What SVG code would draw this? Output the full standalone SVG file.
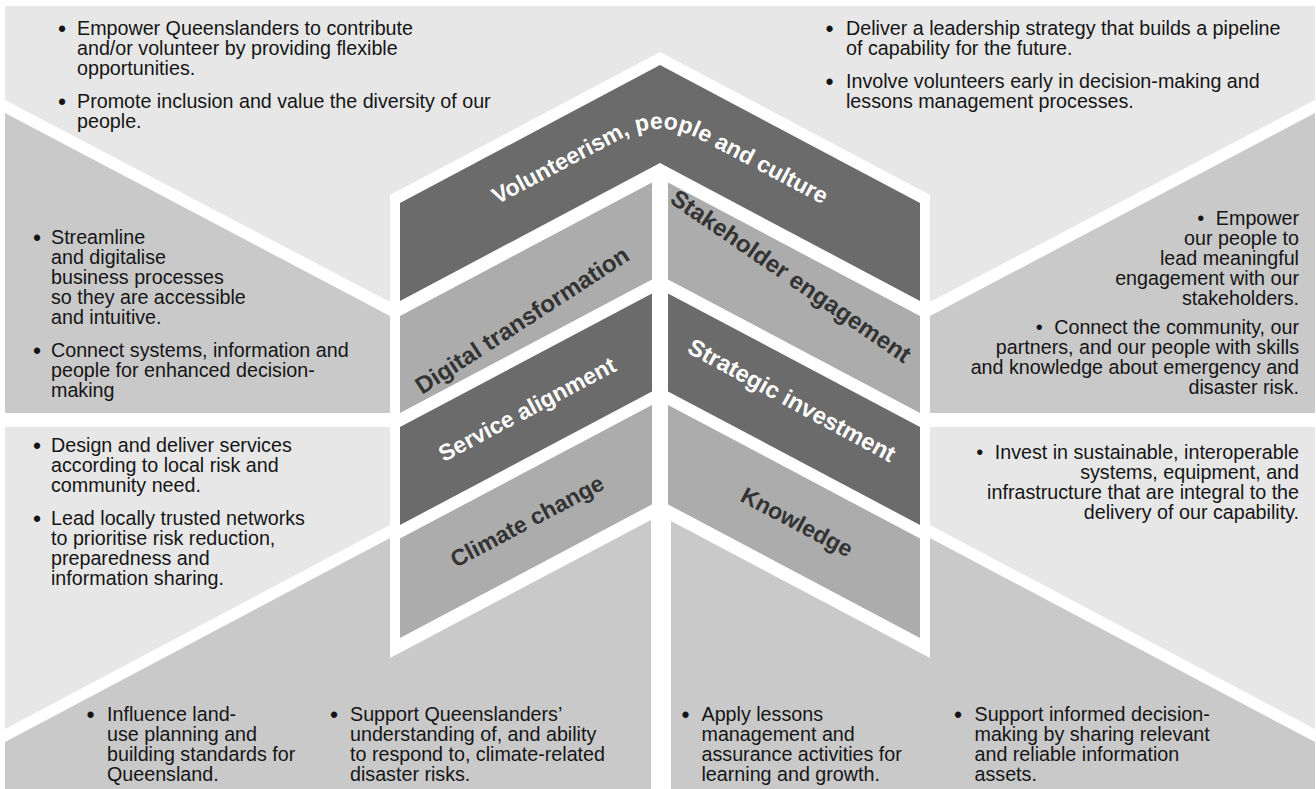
<svg xmlns="http://www.w3.org/2000/svg" width="1316" height="789" viewBox="0 0 1316 789">
<style>
.light{fill:#e7e7e7}
.mid{fill:#c9c9c9}
.pl{fill:#acacac}
.pd{fill:#6b6b6b}
text{font-family:"Liberation Sans",Arial,Helvetica,sans-serif}
.t{font-size:19.7px;fill:#151515}
.e{text-anchor:end}
.b{font-size:23px;fill:#151515;text-anchor:middle}
.bi{font-size:20px}
.lb{font-size:23px;font-weight:bold;text-anchor:middle}
.lw{fill:#ffffff}
.lk{fill:#333333}
</style>
<defs>
<path id="volPath" d="M 400,256 L 620,139.4 Q 660,118.2 700,139.4 L 920,256"/>
</defs>
<rect x="0" y="0" width="1316" height="789" fill="#ffffff"/>

<g id="region-top">
<polygon class="light" points="5,6 1315,6 1315,100 930,302 930,195 660,52 390,195 390,302 5,100"/>
<text class="b" x="62" y="37">•</text>
<text class="t" x="77" y="35">Empower Queenslanders to contribute</text>
<text class="t" x="77" y="55">and/or volunteer by providing flexible</text>
<text class="t" x="77" y="75">opportunities.</text>
<text class="b" x="62" y="110">•</text>
<text class="t" x="77" y="108">Promote inclusion and value the diversity of our</text>
<text class="t" x="77" y="128">people.</text>
<text class="b" x="829.5" y="37">•</text>
<text class="t" x="846" y="35">Deliver a leadership strategy that builds a pipeline</text>
<text class="t" x="846" y="55">of capability for the future.</text>
<text class="b" x="829.5" y="90">•</text>
<text class="t" x="846" y="88">Involve volunteers early in decision-making and</text>
<text class="t" x="846" y="108">lessons management processes.</text>
</g>

<g id="region-left-middle">
<polygon class="mid" points="5,113 390,316 390,413 5,413"/>
<text class="b" x="37" y="246">•</text>
<text class="t" x="51" y="244">Streamline</text>
<text class="t" x="51" y="264">and digitalise</text>
<text class="t" x="51" y="284">business processes</text>
<text class="t" x="51" y="304">so they are accessible</text>
<text class="t" x="51" y="324">and intuitive.</text>
<text class="b" x="37" y="359">•</text>
<text class="t" x="51" y="357">Connect systems, information and</text>
<text class="t" x="51" y="377">people for enhanced decision-</text>
<text class="t" x="51" y="397">making</text>
</g>

<g id="region-right-middle">
<polygon class="mid" points="1315,113 930,316 930,413 1315,413"/>
<text class="t e" x="1299" y="225"><tspan class="bi">•</tspan><tspan dx="11.5">Empower</tspan></text>
<text class="t e" x="1299" y="245">our people to</text>
<text class="t e" x="1299" y="265">lead meaningful</text>
<text class="t e" x="1299" y="285">engagement with our</text>
<text class="t e" x="1299" y="305">stakeholders.</text>
<text class="t e" x="1299" y="334"><tspan class="bi">•</tspan><tspan dx="11.5">Connect the community, our</tspan></text>
<text class="t e" x="1299" y="354">partners, and our people with skills</text>
<text class="t e" x="1299" y="374">and knowledge about emergency and</text>
<text class="t e" x="1299" y="394">disaster risk.</text>
</g>

<g id="region-left-lower">
<polygon class="light" points="5,427 390,427 390,525 5,729"/>
<text class="b" x="37" y="454">•</text>
<text class="t" x="51" y="452">Design and deliver services</text>
<text class="t" x="51" y="472">according to local risk and</text>
<text class="t" x="51" y="492">community need.</text>
<text class="b" x="37" y="527">•</text>
<text class="t" x="51" y="525">Lead locally trusted networks</text>
<text class="t" x="51" y="545">to prioritise risk reduction,</text>
<text class="t" x="51" y="565">preparedness and</text>
<text class="t" x="51" y="585">information sharing.</text>
</g>

<g id="region-right-lower">
<polygon class="light" points="1315,427 930,427 930,525 1315,729"/>
<text class="t e" x="1299" y="459"><tspan class="bi">•</tspan><tspan dx="11.5">Invest in sustainable, interoperable</tspan></text>
<text class="t e" x="1299" y="479">systems, equipment, and</text>
<text class="t e" x="1299" y="499">infrastructure that are integral to the</text>
<text class="t e" x="1299" y="519">delivery of our capability.</text>
</g>

<g id="region-bottom-left">
<polygon class="mid" points="5,742 390,538 390,658 651,520 651,789 5,789"/>
<text class="b" x="90.5" y="723">•</text>
<text class="t" x="107" y="721">Influence land-</text>
<text class="t" x="107" y="741">use planning and</text>
<text class="t" x="107" y="761">building standards for</text>
<text class="t" x="107" y="781">Queensland.</text>
<text class="b" x="334" y="723">•</text>
<text class="t" x="350" y="721">Support Queenslanders’</text>
<text class="t" x="350" y="741">understanding of, and ability</text>
<text class="t" x="350" y="761">to respond to, climate-related</text>
<text class="t" x="350" y="781">disaster risks.</text>
</g>

<g id="region-bottom-right">
<polygon class="mid" points="1315,742 930,538 930,658 671,521 671,789 1315,789"/>
<text class="b" x="685.5" y="723">•</text>
<text class="t" x="701.5" y="721">Apply lessons</text>
<text class="t" x="701.5" y="741">management and</text>
<text class="t" x="701.5" y="761">assurance activities for</text>
<text class="t" x="701.5" y="781">learning and growth.</text>
<text class="b" x="958" y="723">•</text>
<text class="t" x="974.5" y="721">Support informed decision-</text>
<text class="t" x="974.5" y="741">making by sharing relevant</text>
<text class="t" x="974.5" y="761">and reliable information</text>
<text class="t" x="974.5" y="781">assets.</text>
</g>

<g id="node-volunteerism">
<polygon class="pd" points="400,203 660,65 920,203 920,301 660,163 400,301"/>
<text class="lb lw"><textPath href="#volPath" startOffset="50%">Volunteerism, people and culture</textPath></text>
</g>

<g id="node-digital-transformation">
<polygon class="pl" points="400,316 652,182.4 652,279.4 400,413"/>
<text class="lb lk" style="font-size:24px" transform="translate(522,320) rotate(-33)" dy="0.35em">Digital transformation</text>
</g>

<g id="node-service-alignment">
<polygon class="pd" points="400,427 652,293.4 652,391.4 400,525"/>
<text class="lb lw" transform="translate(527,409) rotate(-27.9)" dy="0.35em">Service alignment</text>
</g>

<g id="node-climate-change">
<polygon class="pl" points="400,538.5 652,405 652,504.4 400,638"/>
<text class="lb lk" transform="translate(527,521) rotate(-27.9)" dy="0.35em">Climate change</text>
</g>

<g id="node-stakeholder-engagement">
<polygon class="pl" points="668,182.4 920,316 920,413 668,279.4"/>
<text class="lb lk" style="font-size:24px" transform="translate(791,276) rotate(34.5)" dy="0.35em">Stakeholder engagement</text>
</g>

<g id="node-strategic-investment">
<polygon class="pd" points="668,293.4 920,427 920,525 668,391.4"/>
<text class="lb lw" style="font-size:23.6px" transform="translate(792,400) rotate(28.5)" dy="0.35em">Strategic investment</text>
</g>

<g id="node-knowledge">
<polygon class="pl" points="668,405 920,538.5 920,638 668,504.4"/>
<text class="lb lk" transform="translate(797,522) rotate(27.9)" dy="0.35em">Knowledge</text>
</g>
</svg>
